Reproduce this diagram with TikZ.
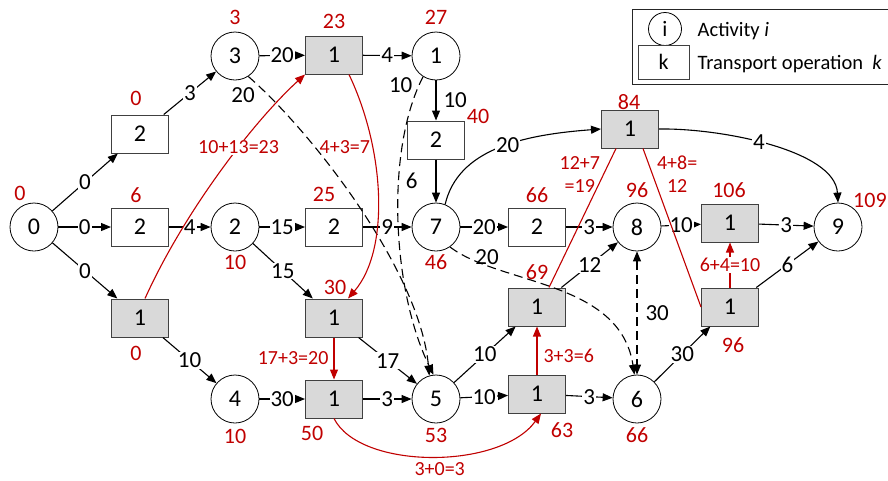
\documentclass[tikz,border=0pt]{standalone}
\usepackage{fontspec}
\setmainfont{Carlito}
\usetikzlibrary{arrows.meta}
\definecolor{myred}{RGB}{192,0,0}
\definecolor{boxgray}{RGB}{217,217,217}
\definecolor{bordergray}{RGB}{64,64,64}
\begin{document}
\begin{tikzpicture}[x=1pt,y=-1pt,
  act/.style={circle,draw=black,line width=0.8pt,minimum size=48pt,inner sep=0pt,font=\fontsize{24}{24}\selectfont},
  trn/.style={rectangle,draw=bordergray,line width=1pt,minimum width=57pt,minimum height=38pt,inner sep=0pt,font=\fontsize{24}{24}\selectfont},
  gtrn/.style={trn,fill=boxgray},
  tm/.style={text=myred,font=\fontsize{22}{22}\selectfont,inner sep=0pt},
  fm/.style={text=myred,font=\fontsize{20}{23}\selectfont,inner sep=1pt},
  el/.style={fill=white,inner sep=1pt,font=\fontsize{23}{23}\selectfont},
  sl/.style={inner sep=1pt,font=\fontsize{23}{23}\selectfont},
  elr/.style={fill=white,inner sep=1pt,text=myred,font=\fontsize{20}{20}\selectfont},
  arr/.style={-{Triangle[length=10pt,width=8pt]},line width=1.1pt},
  darr/.style={arr,dash pattern=on 9pt off 5pt},
  rarr/.style={-{Triangle[length=10pt,width=8pt]},line width=1.1pt,draw=myred,fill=none},
  rline/.style={line width=1.1pt,draw=myred},
]
\useasboundingbox (0,0) rectangle (888,480);
\clip (0,0) rectangle (888,480);

% activities and transport operations
\node[act] (A0) at (34,227) {0};
\node[trn] (T1) at (140,134) {2};
\node[trn] (T2) at (140,227) {2};
\node[gtrn] (T3) at (140,318) {1};
\node[act] (A3) at (235,56) {3};
\node[act] (A2) at (235,227) {2};
\node[act] (A4) at (235,399) {4};
\node[gtrn] (T4) at (334,55) {1};
\node[trn] (T5) at (334,227) {2};
\node[gtrn] (T6) at (334,318) {1};
\node[gtrn] (T7) at (334,399) {1};
\node[act] (A1) at (436,56) {1};
\node[trn] (T8) at (436,140) {2};
\node[act] (A7) at (436,227) {7};
\node[act] (A5) at (436,399) {5};
\node[trn] (T9) at (537,227) {2};
\node[gtrn] (T10) at (537,307) {1};
\node[gtrn] (T11) at (537,394) {1};
\node[gtrn] (T12) at (630,129) {1};
\node[act] (A8) at (637,227) {8};
\node[act] (A6) at (637,399) {6};
\node[gtrn] (T13) at (730,223) {1};
\node[gtrn] (T14) at (730,307) {1};
\node[act] (A9) at (838,227) {9};

% red times
\node[tm] (nA0) at (20,193) {0};
\node[tm] (nT1) at (136,98) {0};
\node[tm] (nT2) at (136,195) {6};
\node[tm] (nT3) at (136,353) {0};
\node[tm] (nA3) at (235,17) {3};
\node[tm] (nA2) at (235,262) {10};
\node[tm] (nA4) at (235,436) {10};
\node[tm] (nT4) at (334,21) {23};
\node[tm] (nA1) at (436,17) {27};
\node[tm] (nT8) at (478,116) {40};
\node[tm] (nT5) at (324,194) {25};
\node[tm] (nT6) at (335,287) {30};
\node[tm] (nA7) at (436,262) {46};
\node[tm] (nT9) at (537,195) {66};
\node[tm] (nA8) at (637,190) {96};
\node[tm] (nT12) at (629,102) {84};
\node[tm] (nT13) at (729,190) {106};
\node[tm,anchor=west] (nA9) at (853,200) {109};
\node[tm] (nT10) at (537,272) {69};
\node[tm] (nT14) at (733,345) {96};
\node[tm] (nT7) at (312,433) {50};
\node[tm] (nA5) at (436,435) {53};
\node[tm] (nT11) at (562,430) {63};
\node[tm] (nA6) at (637,435) {66};

% black connectors
\draw[arr] (A0) -- node[el]{0} (T1);
\draw[arr] (A0) -- node[el]{0} (T2);
\draw[arr] (A0) -- node[el]{0} (T3);
\draw[arr] (T1) -- node[el]{3} (A3);
\draw[arr] (T2) -- node[el]{4} (A2);
\draw[arr] (T3) -- node[el]{10} (A4);
\draw[arr] (A3) -- node[el]{20} (T4);
\draw[arr] (T4) -- node[el]{4} (A1);
\draw[arr] (A1) -- node[sl,right=6pt]{10} (T8);
\draw[arr] (T8) -- node[sl,left=17pt]{6} (A7);
\draw[arr] (A2) -- node[el]{15} (T5);
\draw[arr] (A2) -- node[el]{15} (T6);
\draw[arr] (T5) -- node[el]{9} (A7);
\draw[arr] (A7) -- node[el]{20} (T9);
\draw[arr] (T9) -- node[el]{3} (A8);
\draw[arr] (T10) -- node[el]{12} (A8);
\draw[arr] (A8) -- node[el]{10} (T13);
\draw[arr] (T13) -- node[el]{3} (A9);
\draw[arr] (T14) -- node[el]{6} (A9);
\draw[arr] (A6) -- node[el]{30} (T14);
\draw[arr] (T6) -- node[el]{17} (A5);
\draw[arr] (A4) -- node[el]{30} (T7);
\draw[arr] (T7) -- node[el]{3} (A5);
\draw[arr] (A5) -- node[el]{10} (T10);
\draw[arr] (A5) -- node[el]{10} (T11);
\draw[arr] (T11) -- node[el]{3} (A6);
\draw[arr] (A7.68) .. controls (458,150) and (520,135) .. (T12.west) node[el,pos=0.56]{20};
\draw[arr] (T12.east) .. controls (720,128) and (835,150) .. (A9.north) node[el,pos=0.45]{4};

% dashed connectors
\draw[darr] (A7.-55) .. controls (500,285) and (620,280) .. (A6.96) node[sl,pos=0.2,above]{20};
\draw[darr,{Triangle[length=10pt,width=8pt]}-{Triangle[length=10pt,width=8pt]}] (A8.south) -- (A6.north) node[sl,midway,right=7pt]{30};
\draw[darr] (A3.-57) .. controls (310,130) and (420,270) .. (A5.106) node[sl,pos=0.1,xshift=-25pt]{20};
\draw[darr] (A1.-122) .. controls (385,150) and (392,290) .. (A5.96) node[sl,pos=0.05,xshift=-17pt,yshift=3pt]{10};

% red connectors
\draw[rarr] ([xshift=5pt]T3.north) .. controls (185,210) and (255,120) .. (T4.south west) node[elr,pos=0.6]{10+13=23};
\draw[rarr] ([xshift=15pt]T4.south) .. controls (385,150) and (390,250) .. ([xshift=14pt]T6.north) node[fm,pos=0.3,left=1pt]{4+3=7};
\draw[rarr] (T6) -- node[fm,left=4pt]{17+3=20} (T7);
\draw[rarr] (T7.south) .. controls (360,470) and (500,470) .. ([xshift=4pt]T11.south) node[fm,pos=0.53,below=5pt]{3+0=3};
\draw[rarr] (T11) -- node[fm,pos=0.39,right=5pt]{3+3=6} (T10);
\draw[rline] ([xshift=12pt]T10.north) -- ([xshift=-14pt]T12.south) node[fm,pos=0.814,left=2pt,align=center]{12+7\\=19};
\draw[rline] ([xshift=13pt]T12.south) -- (T14.west) node[fm,pos=0.164,right=3pt,align=center]{4+8=\\12};
\draw[rarr] (T14) -- node[elr]{6+4=10} (T13);

% legend
\draw[line width=1pt,draw=black!85] (632,9) rectangle (900,84);
\node[act,minimum size=33pt,font=\fontsize{22}{22}\selectfont] (Li) at (665,29) {i};
\node[trn,minimum width=51pt,minimum height=34pt,font=\fontsize{22}{22}\selectfont] (Lk) at (663.5,62) {k};
\node[anchor=base west,inner sep=0pt,font=\fontsize{20.5}{20.5}\selectfont] (Lt1) at (697.5,36) {Activity \textit{i}};
\node[anchor=base west,inner sep=0pt,font=\fontsize{20.5}{20.5}\selectfont] (Lt2) at (697.5,69.5) {Transport operation\ \ \textit{k}};
\end{tikzpicture}
\end{document}
